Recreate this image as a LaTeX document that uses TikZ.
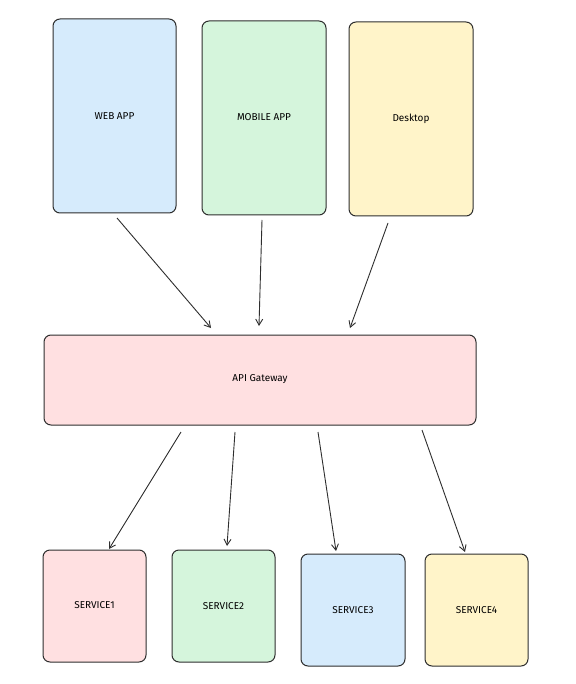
\documentclass[tikz,border=0pt]{standalone}
\usepackage{fontspec}
\setmainfont{Fira Sans}
\usetikzlibrary{arrows.meta}
\definecolor{inkc}{HTML}{2E2E2E}
\definecolor{fblue}{HTML}{D6EBFC}
\definecolor{fgreen}{HTML}{D5F5DC}
\definecolor{fyellow}{HTML}{FFF4C9}
\definecolor{fpink}{HTML}{FFE0E1}
\tikzset{
  boxb/.style={draw=inkc, line width=1pt, rounded corners=7pt},
  lbl/.style={font=\fontsize{10}{12}\selectfont, text=black},
  conn/.style={draw=inkc, line width=0.9pt, -{Straight Barb[length=6pt,width=7pt]}}
}
\begin{document}
\begin{tikzpicture}[x=1pt,y=-1pt]
\useasboundingbox (0,0) rectangle (575,684);
\fill[white] (0,0) rectangle (575,684);
% top boxes
\path[boxb, fill=fblue] (53,19) rectangle (176,213);
\node[lbl] (web) at (114.5,116) {WEB APP};
\path[boxb, fill=fgreen] (202,21) rectangle (326,215);
\node[lbl] (mob) at (264,117) {MOBILE APP};
\path[boxb, fill=fyellow] (349,22) rectangle (473,216);
\node[lbl] (desk) at (411,119) {Desktop};
% gateway
\path[boxb, fill=fpink] (44,335) rectangle (476,425);
\node[lbl] (gw) at (260,379) {API Gateway};
% services
\path[boxb, fill=fpink] (43,550) rectangle (146,662);
\node[lbl] (s1) at (94.5,605) {SERVICE1};
\path[boxb, fill=fgreen] (172,550) rectangle (275,662);
\node[lbl] (s2) at (223.5,606) {SERVICE2};
\path[boxb, fill=fblue] (301,554) rectangle (405,666);
\node[lbl] (s3) at (353,610) {SERVICE3};
\path[boxb, fill=fyellow] (425,554) rectangle (528,666);
\node[lbl] (s4) at (476.5,610) {SERVICE4};
% connector ends
\coordinate (a1) at (117,218); \coordinate (b1) at (211,328);
\coordinate (a2) at (262,220); \coordinate (b2) at (259,326);
\coordinate (a3) at (388,223); \coordinate (b3) at (350,328);
\coordinate (c1) at (181,432); \coordinate (d1) at (109,549);
\coordinate (c2) at (235,432); \coordinate (d2) at (227,546);
\coordinate (c3) at (318,432); \coordinate (d3) at (336,551);
\coordinate (c4) at (422,430); \coordinate (d4) at (465,552);
\draw[conn] (a1) -- (b1);
\draw[conn] (a2) -- (b2);
\draw[conn] (a3) -- (b3);
\draw[conn] (c1) -- (d1);
\draw[conn] (c2) -- (d2);
\draw[conn] (c3) -- (d3);
\draw[conn] (c4) -- (d4);
\end{tikzpicture}
\end{document}
